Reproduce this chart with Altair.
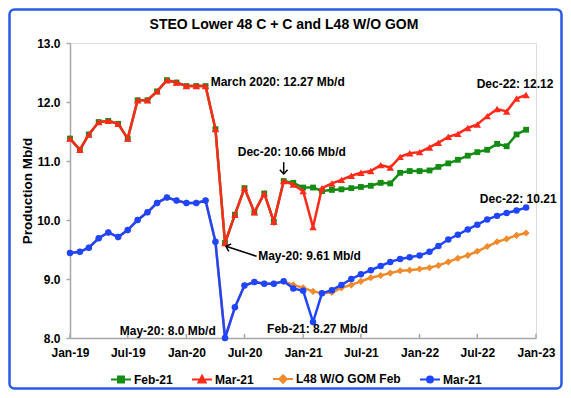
import altair as alt
import pandas as pd

# ---------------- data ----------------
months = pd.date_range("2019-01-01", "2022-12-01", freq="MS").strftime("%Y-%m-%d").tolist()

feb21 = [11.38, 11.19, 11.45, 11.66, 11.68, 11.63, 11.38, 12.03, 12.03, 12.18, 12.37, 12.33,
         12.27, 12.27, 12.27, 11.54, 9.61, 10.09, 10.54, 10.13, 10.45, 9.97, 10.66, 10.63,
         10.55, 10.55, 10.49, 10.51, 10.52, 10.54, 10.56, 10.58, 10.63, 10.62, 10.80, 10.83,
         10.83, 10.84, 10.90, 10.96, 11.02, 11.09, 11.15, 11.19, 11.29, 11.25, 11.45, 11.53]

mar21 = [11.38, 11.19, 11.45, 11.66, 11.68, 11.63, 11.38, 12.03, 12.03, 12.18, 12.37, 12.33,
         12.27, 12.27, 12.27, 11.54, 9.61, 10.09, 10.54, 10.13, 10.45, 9.97, 10.66, 10.60,
         10.49, 9.88, 10.54, 10.62, 10.68, 10.75, 10.80, 10.83, 10.93, 10.89, 11.07, 11.13,
         11.15, 11.23, 11.31, 11.41, 11.46, 11.56, 11.62, 11.76, 11.88, 11.84, 12.06, 12.12]

l48_feb = [9.44, 9.46, 9.53, 9.69, 9.79, 9.71, 9.83, 10.00, 10.13, 10.29, 10.38, 10.33,
           10.29, 10.29, 10.33, 9.63, 8.00, 8.52, 8.89, 8.95, 8.92, 8.92, 8.96, 8.90,
           8.85, 8.79, 8.76, 8.77, 8.85, 8.90, 8.96, 9.02, 9.06, 9.10, 9.14, 9.15,
           9.17, 9.19, 9.23, 9.29, 9.35, 9.40, 9.47, 9.55, 9.63, 9.68, 9.74, 9.78]

l48_mar = [9.44, 9.46, 9.53, 9.69, 9.79, 9.71, 9.83, 10.00, 10.13, 10.29, 10.38, 10.33,
           10.29, 10.29, 10.33, 9.63, 8.00, 8.52, 8.89, 8.95, 8.92, 8.92, 8.96, 8.84,
           8.80, 8.27, 8.76, 8.81, 8.90, 9.00, 9.08, 9.15, 9.22, 9.29, 9.34, 9.37,
           9.40, 9.46, 9.56, 9.67, 9.75, 9.84, 9.92, 10.01, 10.07, 10.12, 10.16, 10.21]

series_keys = ["Feb-21", "Mar-21", "L48 W/O GOM Feb", "Mar-21 L48"]
series_values = [feb21, mar21, l48_feb, l48_mar]

x_ticks = ["2019-01-01", "2019-07-01", "2020-01-01", "2020-07-01", "2021-01-01",
           "2021-07-01", "2022-01-01", "2022-07-01", "2023-01-01"]
y_ticks = [8.0, 8.5, 9.0, 9.5, 10.0, 10.5, 11.0, 11.5, 12.0, 12.5, 13.0]

ann_text = ["March 2020: 12.27 Mb/d", "Dec-20: 10.66 Mb/d", "May-20: 9.61 Mb/d",
            "May-20: 8.0 Mb/d", "Feb-21: 8.27 Mb/d", "Dec-22: 12.12", "Dec-22: 10.21"]
ann_date = ["2020-03-17", "2020-06-10", "2020-08-13", "2019-06-06", "2020-09-10",
            "2022-06-29", "2022-07-09"]
ann_value = [12.34, 11.15, 9.385, 8.12, 8.15, 12.30, 10.35]

arrow_start_date = ["2020-11-01", "2020-08-08"]
arrow_start_value = [10.98, 9.385]
arrow_end_date = ["2020-11-01", "2020-05-04"]
arrow_end_value = [10.78, 9.555]
arrow_angle = [0, 108]

# ---------------- styles ----------------
FONT = "Liberation Sans"
colors = ["#138c13", "#ff2a1a", "#f08a2a", "#1f45ff"]
shapes = ["square", "triangle-up", "diamond", "circle"]
sizes = [34, 55, 50, 42]

rows = []
for key, vals in zip(series_keys, series_values):
    for m, v in zip(months, vals):
        rows.append({"date": m, "series": key, "value": v})
df = pd.DataFrame(rows)

x_enc = alt.X("date:T", scale=alt.Scale(domain=["2019-01-01", "2023-01-01"]),
              axis=alt.Axis(values=x_ticks, format="%b-%y", title=None, grid=False,
                            ticks=False, labelPadding=9, labelFontSize=12,
                            labelFontWeight="bold", labelColor="black", labelFont=FONT,
                            labelOverlap=False, labelFlush=False,
                            domainColor="#a8a8a8", domainWidth=1.5))
y_enc = alt.Y("value:Q", scale=alt.Scale(domain=[8, 13], nice=False, zero=False),
              axis=alt.Axis(values=y_ticks, format=".1f", title="Production Mb/d",
                            titleFont=FONT, titleFontSize=13.5, titleFontWeight="bold",
                            titleColor="black", titlePadding=2,
                            labelFontSize=12, labelFontWeight="bold", labelColor="black",
                            labelFont=FONT, labelPadding=6, ticks=True, tickSize=4,
                            tickColor="#a8a8a8", tickWidth=1.5,
                            gridColor="#c4c4c4", gridWidth=1.5,
                            domainColor="#a8a8a8", domainWidth=1.5))

sym_expr = ("datum.value == 'Feb-21' ? 'M-1,0H1M-0.3,-0.3H0.3V0.3H-0.3Z' : "
            "datum.value == 'Mar-21' ? 'M-1,0H1M0,-0.38L0.36,0.28L-0.36,0.28Z' : "
            "datum.value == 'L48 W/O GOM Feb' ? 'M-1,0H1M0,-0.38L0.38,0L0,0.38L-0.38,0Z' : "
            "'M-1,0H1M-0.3,0A0.3,0.3,0,1,0,0.3,0A0.3,0.3,0,1,0,-0.3,0Z'")

legend = alt.Legend(orient="none", legendX=40, legendY=325, direction="horizontal",
                    columns=4, title=None, labelFont=FONT, labelFontSize=12,
                    labelFontWeight="bold", labelColor="black", symbolSize=400,
                    labelOffset=2, columnPadding=15, padding=0,
                    symbolType=alt.ExprRef(expr=sym_expr),
                    symbolFillColor=alt.ExprRef(expr="scale('color', datum.value)"),
                    symbolStrokeColor=alt.ExprRef(expr="scale('color', datum.value)"),
                    symbolStrokeWidth=2, symbolOpacity=1,
                    labelExpr="datum.label == 'Mar-21 L48' ? 'Mar-21' : datum.label")

color_enc = alt.Color("series:N", scale=alt.Scale(domain=series_keys, range=colors),
                      legend=legend)

layers = []
for key, shp, sz in zip(series_keys, shapes, sizes):
    base = alt.Chart(df).transform_filter(alt.datum.series == key)
    layers.append(base.mark_line(strokeWidth=2.5).encode(x=x_enc, y=y_enc, color=color_enc))
    layers.append(base.mark_point(filled=True, opacity=1, size=sz, shape=shp).encode(
        x=x_enc, y=y_enc, color=color_enc))

# inner tick marks on the x axis
tick_df = pd.DataFrame({"date": x_ticks})
ticks = alt.Chart(tick_df).mark_rule(color="#a8a8a8", strokeWidth=1.5).encode(
    x="date:T", y=alt.Y(datum=8.0), y2=alt.Y2(datum=8.07))

ann_df = pd.DataFrame({"text": ann_text, "date": ann_date, "value": ann_value})
ann = alt.Chart(ann_df).mark_text(align="left", baseline="middle", font=FONT,
                                  fontSize=12, fontWeight="bold", color="black").encode(
    x="date:T", y="value:Q", text="text:N")

arr_df = pd.DataFrame({"d1": arrow_start_date, "v1": arrow_start_value,
                       "d2": arrow_end_date, "v2": arrow_end_value, "ang": arrow_angle})
arr_line = alt.Chart(arr_df).mark_rule(color="black", strokeWidth=1.5).encode(
    x="d1:T", y="v1:Q", x2="d2:T", y2="v2:Q")
arr_head = alt.Chart(arr_df).mark_point(filled=False, color="black", strokeWidth=1.5,
                                        size=60, opacity=1,
                                        shape="M-1,-1.1L0,0L1,-1.1").encode(
    x="d2:T", y="v2:Q", angle=alt.Angle("ang:Q", scale=None))

border = alt.Chart(pd.DataFrame({"k": [0]})).mark_rect(
    fillOpacity=0, stroke="#2a5be8", strokeWidth=2.5, cornerRadius=5).encode(
    x=alt.value(-60.5), x2=alt.value(491.5), y=alt.value(-33.5), y2=alt.value(345.5))

chart = alt.layer(ticks, *layers, ann, arr_line, arr_head, border).properties(
    width=466, height=295,
    autosize=alt.AutoSizeParams(type="none"),
    padding={"left": 62, "top": 35, "right": 27, "bottom": 52},
    title=alt.TitleParams("STEO Lower 48 C + C and L48 W/O GOM", font=FONT, fontSize=14,
                          fontWeight="bold", color="black", anchor="middle", dx=-19,
                          offset=-24),
).configure_view(strokeWidth=0).configure(font=FONT)

chart.save("out.html", embed_options={"renderer": "svg", "actions": False})
